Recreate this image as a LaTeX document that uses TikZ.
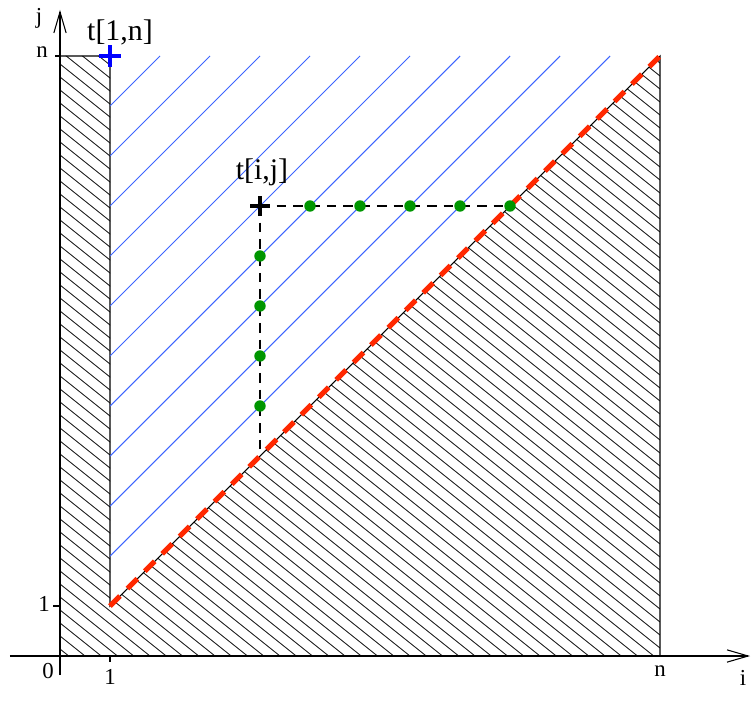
\documentclass[tikz,border=0pt]{standalone}
\usepackage{fontspec}
\setmainfont{Liberation Serif}
\usetikzlibrary{arrows.meta,positioning}
\definecolor{lineblue}{RGB}{60,100,255}
\definecolor{dotgreen}{RGB}{0,150,0}
\definecolor{diagred}{RGB}{255,40,0}

\begin{document}
\begin{tikzpicture}[
  axis/.style={-{Straight Barb[length=12pt,width=7pt]},line width=0.6pt},
  ticklabel/.style={font=\fontsize{13}{14}\selectfont,inner sep=1pt},
  celllabel/.style={font=\fontsize{17}{19}\selectfont,inner sep=1pt},
  dot/.style={circle,fill=dotgreen,inner sep=0pt,minimum size=6.5pt},
  hatch/.style={black!85,line width=0.5pt}]
\useasboundingbox (-1.2,-0.96) rectangle (13.82,13.12);
% hatched region
\begin{scope}
\clip (0,0) -- (12,0) -- (12,12) -- (1,1) -- (1,12) -- (0,12) -- cycle;
\foreach \c in {0.14,0.40,...,21.8}
  \draw [hatch] (0,\c) -- (12,\c-9.6);
\end{scope}
\draw [line width=0.6pt] (0,12) -- (1,12) -- (1,1) -- (12,12) -- (12,0);
% blue lines
\foreach \k in {2,...,11}
  \draw [lineblue,line width=0.6pt] (1,\k) -- ({13-\k},12);
% axes
\draw [axis] (-1,0) -- (13.8,0);
\draw [axis] (0,-0.38) -- (0,12.92);
\draw [line width=0.6pt] (1,0) -- (1,-0.12);
\draw [line width=0.6pt] (0,1) -- (-0.15,1);
\draw [line width=0.6pt] (0,12) -- (-0.1,12);
\node [ticklabel] (o) at (-0.24,-0.3) {0};
\node [ticklabel] (x1) at (1,-0.42) {1};
\node [ticklabel] (xn) at (12,-0.3) {n};
\node [ticklabel] (xi) at (13.66,-0.44) {i};
\node [ticklabel] (y1) at (-0.32,1.04) {1};
\node [ticklabel] (yn) at (-0.36,12.08) {n};
\node [ticklabel] (yj) at (-0.42,12.76) {j};
% red dashed diagonal
\draw [diagred,line width=3pt,dash pattern=on 8pt off 6pt] (1,1) -- (12,12);
% dependencies of t[i,j]
\coordinate (tij) at (4,9);
\coordinate (tdiag) at (9,9);
\coordinate (tbot) at (4,4);
\draw [line width=0.8pt,dash pattern=on 5.5pt off 4pt] (tij) -- (tdiag);
\draw [line width=0.8pt,dash pattern=on 5.5pt off 4pt] (tij) -- (tbot);
\foreach \k in {5,...,8}
  \node [dot] (v\k) at (4,\k) {};
\foreach \k in {5,...,9}
  \node [dot] (h\k) at (\k,9) {};
\draw [line width=2pt] (3.8,9) -- (4.2,9) (4,8.8) -- (4,9.2);
\node [celllabel] (lij) at (4.04,9.68) {t[i,j]};
% t[1,n]
\draw [blue,line width=2.2pt] (0.78,12) -- (1.22,12) (1,11.78) -- (1,12.22);
\node [celllabel] (l1n) at (1.2,12.48) {t[1,n]};
\end{tikzpicture}
\end{document}
